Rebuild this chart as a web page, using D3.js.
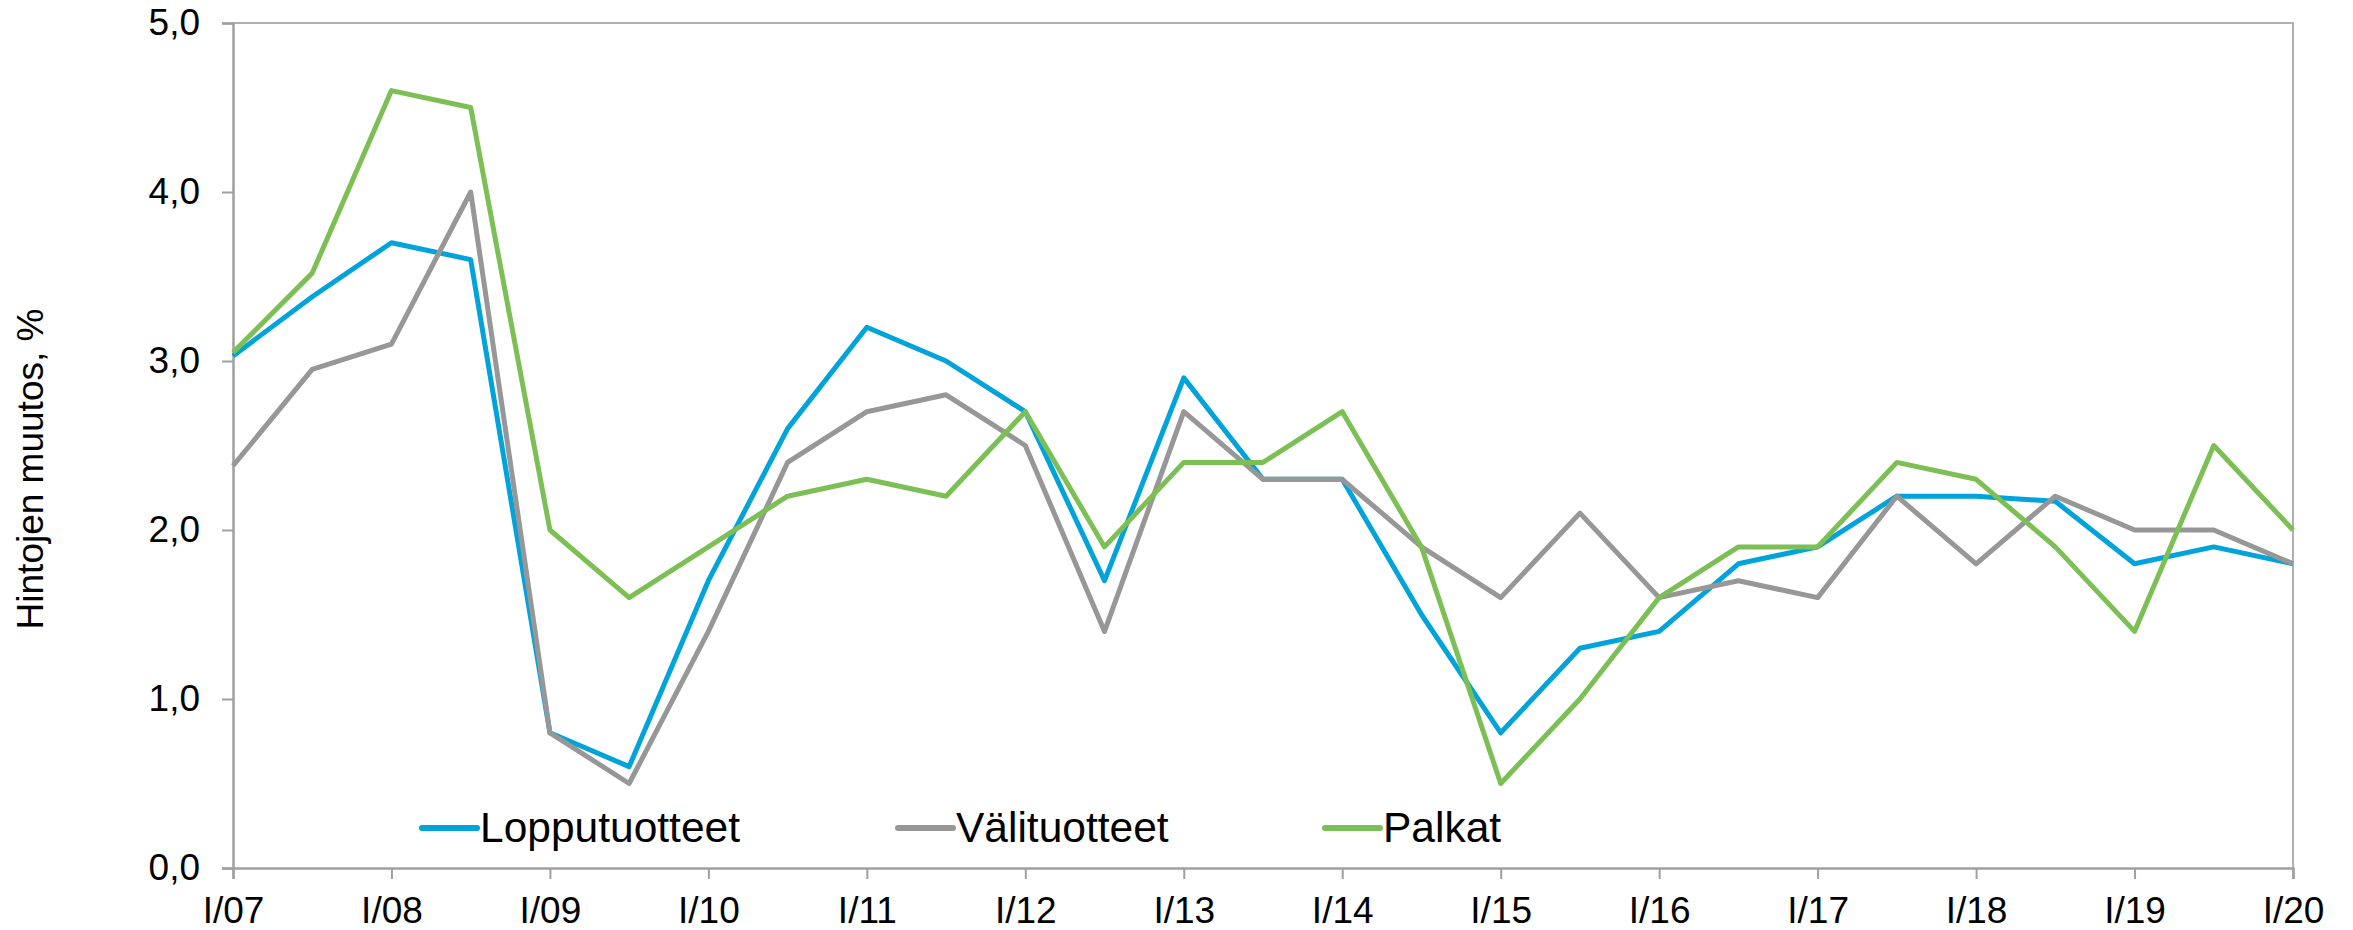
<!DOCTYPE html>
<html>
<head>
<meta charset="utf-8">
<script src="https://cdn.jsdelivr.net/npm/d3@7"></script>
<style>
  body { margin: 0; background: #fff; }
  svg { display: block; font-family: "Liberation Sans", Arial, sans-serif; }
</style>
</head>
<body>
<script>
const periods = ["I/07","II/07","I/08","II/08","I/09","II/09","I/10","II/10","I/11","II/11",
  "I/12","II/12","I/13","II/13","I/14","II/14","I/15","II/15","I/16","II/16",
  "I/17","II/17","I/18","II/18","I/19","II/19","I/20"];
const lopputuotteet = [3.03, 3.38, 3.7, 3.6, 0.8, 0.6, 1.7, 2.6, 3.2, 3.0, 2.7, 1.7, 2.9, 2.3,
  2.3, 1.5, 0.8, 1.3, 1.4, 1.8, 1.9, 2.2, 2.2, 2.17, 1.8, 1.9, 1.8];
const valituotteet = [2.38, 2.95, 3.1, 4.0, 0.8, 0.5, 1.4, 2.4, 2.7, 2.8, 2.5, 1.4, 2.7, 2.3,
  2.3, 1.9, 1.6, 2.1, 1.6, 1.7, 1.6, 2.2, 1.8, 2.2, 2.0, 2.0, 1.8];
const palkat = [3.05, 3.52, 4.6, 4.5, 2.0, 1.6, 1.9, 2.2, 2.3, 2.2, 2.7, 1.9, 2.4, 2.4,
  2.7, 1.9, 0.5, 1.0, 1.6, 1.9, 1.9, 2.4, 2.3, 1.9, 1.4, 2.5, 2.0];
const seriesNames = ["Lopputuotteet", "Välituotteet", "Palkat"];
const yTicks = [0, 1, 2, 3, 4, 5];

const width = 2353;
const height = 930;
const plotLeft = 233;
const plotRight = 2293;
const plotTop = 23;
const plotBottom = 868;
const axisColor = "#a0a0a0";
const colors = ["#00a3da", "#979797", "#7cbf55"];

const svg = d3.select("body").append("svg")
  .attr("width", width)
  .attr("height", height);

const xScale = d3.scaleLinear().domain([0, periods.length - 1]).range([plotLeft, plotRight]);
const yScale = d3.scaleLinear().domain([0, 5]).range([plotBottom, plotTop]);

// frame (top + right)
svg.append("path")
  .attr("d", `M${plotLeft},${plotTop}H${plotRight}V${plotBottom}`)
  .attr("fill", "none")
  .attr("stroke", "#b0b0b0")
  .attr("stroke-width", 2);

const yAxis = d3.axisLeft(yScale)
  .tickValues(yTicks)
  .tickSize(11)
  .tickPadding(22)
  .tickFormat((d) => d3.format(".1f")(d).replace(".", ","));

const gy = svg.append("g")
  .attr("transform", `translate(${plotLeft},0)`)
  .call(yAxis);

const xTickIdx = periods.map((p, i) => i).filter((i) => i % 2 === 0);
const xAxis = d3.axisBottom(xScale)
  .tickValues(xTickIdx)
  .tickSize(11)
  .tickPadding(18)
  .tickFormat((i) => periods[i]);

const gx = svg.append("g")
  .attr("transform", `translate(0,${plotBottom})`)
  .call(xAxis);

[gx, gy].forEach((g) => {
  g.select(".domain").attr("stroke", axisColor).attr("stroke-width", 2.5);
  g.selectAll(".tick line").attr("stroke", axisColor).attr("stroke-width", 2);
  g.selectAll(".tick text")
    .attr("fill", "#000")
    .style("font-size", "37px")
    .style("font-family", '"Liberation Sans", Arial, sans-serif');
});

svg.append("text")
  .text("Hintojen muutos, %")
  .attr("transform", "translate(43,469) rotate(-90)")
  .attr("text-anchor", "middle")
  .attr("font-size", "37px")
  .attr("fill", "#000");

const line = d3.line()
  .x((d, i) => xScale(i))
  .y((d) => yScale(d));

[lopputuotteet, valituotteet, palkat].forEach((vals, k) => {
  svg.append("path")
    .datum(vals)
    .attr("d", line)
    .attr("fill", "none")
    .attr("stroke", colors[k])
    .attr("stroke-width", 5)
    .attr("stroke-linejoin", "round");
});

// legend
const legendX = [422, 898, 1325];
const legendY = 828;
seriesNames.forEach((name, k) => {
  const g = svg.append("g").attr("transform", `translate(${legendX[k]},${legendY})`);
  g.append("line")
    .attr("x1", 0).attr("x2", 55)
    .attr("y1", 0).attr("y2", 0)
    .attr("stroke", colors[k])
    .attr("stroke-width", 6)
    .attr("stroke-linecap", "round");
  g.append("text")
    .text(name)
    .attr("x", 58)
    .attr("y", 14)
    .attr("font-size", "42.5px")
    .attr("fill", "#000");
});
</script>
</body>
</html>
